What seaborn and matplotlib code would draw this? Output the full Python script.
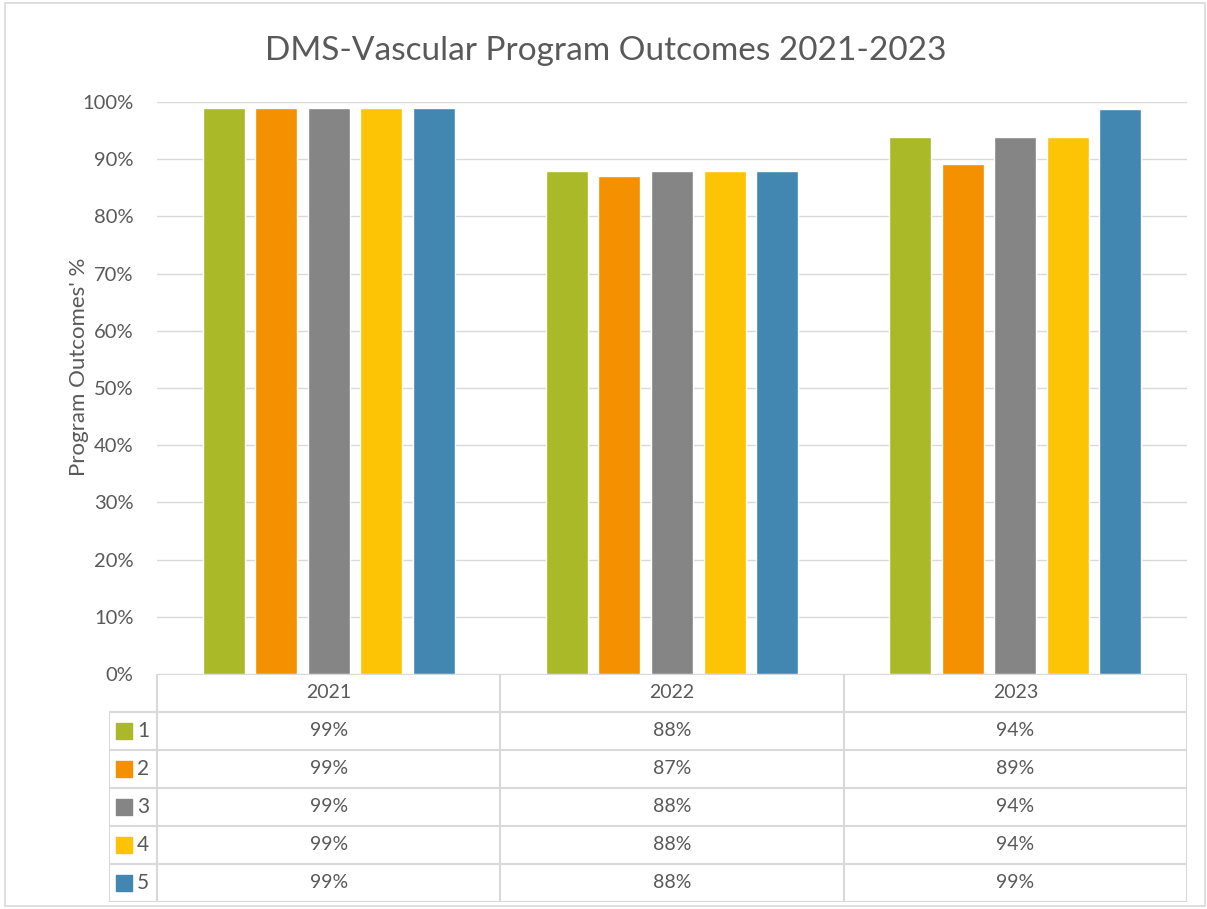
import numpy as np
import pandas as pd
import seaborn as sns
import matplotlib.pyplot as plt
from matplotlib.patches import Rectangle

years = ['2021', '2022', '2023']
outcomes = ['1', '2', '3', '4', '5']
outcome_1 = [99, 88, 93.9]
outcome_2 = [99, 87, 89.2]
outcome_3 = [99, 88, 93.8]
outcome_4 = [99, 88, 93.8]
outcome_5 = [99, 88, 98.7]
colors = ['#A9B928', '#F39100', '#858585', '#FDC305', '#4187B2']

series = [outcome_1, outcome_2, outcome_3, outcome_4, outcome_5]
df = pd.DataFrame([
    {'year': y, 'outcome': o, 'pct': vals[i]}
    for o, vals in zip(outcomes, series)
    for i, y in enumerate(years)
])

sns.set_style('white')
plt.rcParams['font.family'] = ['Lato', 'DejaVu Sans']
txt = '#595959'
grid = '#D9D9D9'

W, H = 1207, 909
fig = plt.figure(figsize=(W / 100, H / 100), dpi=100)

def fx(px):
    return px / W

def fy(py):
    return 1 - py / H

# outer frame
fig.patches.append(Rectangle((fx(5), fy(906)), fx(1200), 903 / H, transform=fig.transFigure,
                             fill=False, edgecolor=grid, lw=1.2))

ax = fig.add_axes([fx(157), fy(674), fx(1187 - 157), 572 / H])
sns.barplot(data=df, x='year', y='pct', hue='outcome', palette=colors,
            width=0.765, gap=0.2, ax=ax, legend=False, saturation=1)
ax.set_xlim(-0.5, 2.5)
ax.set_ylim(0, 100)
ax.set_yticks(np.arange(0, 101, 10))
ax.set_yticklabels([f'{t}%' for t in range(0, 101, 10)], fontsize=14.5, color=txt)
ax.set_xticks([])
ax.set_xlabel('')
ax.set_ylabel("Program Outcomes' %", fontsize=16, color=txt)
ax.yaxis.set_label_coords(-0.066, 0.537)
ax.tick_params(axis='y', length=0, pad=17)
ax.yaxis.grid(True, color=grid, lw=1)
ax.set_axisbelow(True)
for s in ax.spines.values():
    s.set_visible(False)

fig.text(fx(606), fy(51), 'DMS-Vascular Program Outcomes 2021-2023', ha='center', va='center',
         fontsize=24, color=txt)

# data table under the plot
unit = (1187 - 157) / 3.0
left_x = -0.5 - (157 - 109) / unit
tab = fig.add_axes([fx(109), fy(902), fx(1187 - 109), (902 - 674) / H])
tab.set_xlim(left_x, 2.5)
tab.set_ylim(6, 0)
tab.axis('off')
lw = 1.5
tab.hlines(0, -0.5, 2.5, color=grid, lw=lw)
for r in range(1, 7):
    tab.hlines(r, left_x, 2.5, color=grid, lw=lw)
for xv in [-0.5, 0.5, 1.5, 2.5]:
    tab.vlines(xv, 0, 6, color=grid, lw=lw)
tab.vlines(left_x, 1, 6, color=grid, lw=lw)

for i, y in enumerate(years):
    tab.text(i, 0.5, y, ha='center', va='center', fontsize=14, color=txt)
for r, (o, vals, c) in enumerate(zip(outcomes, series, colors), start=1):
    tab.scatter([left_x + (124 - 109) / unit], [r + 0.5], marker='s', s=120, color=c,
                clip_on=False)
    tab.text(left_x + (137 - 109) / unit, r + 0.5, o, ha='left', va='center', fontsize=15, color=txt)
    for i, v in enumerate(vals):
        tab.text(i, r + 0.5, f'{v:.0f}%', ha='center', va='center', fontsize=14, color=txt)

fig.savefig('out.png', dpi=100)
